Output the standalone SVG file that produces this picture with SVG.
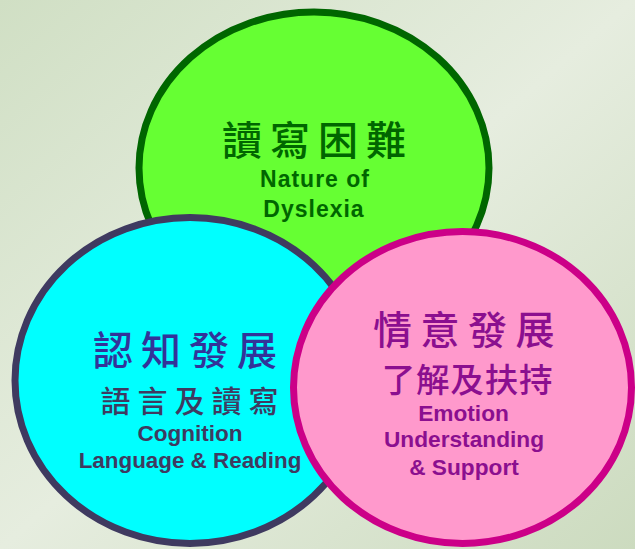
<svg xmlns="http://www.w3.org/2000/svg" width="635" height="549" viewBox="0 0 635 549">
  <defs>
    <linearGradient id="bg" x1="0" y1="0" x2="1" y2="1">
      <stop offset="0" stop-color="#d0dfc4"/>
      <stop offset="0.5" stop-color="#e6eddf"/>
      <stop offset="1" stop-color="#ccdbbf"/>
    </linearGradient>
  </defs>
  <style>
    .circ { stroke-width: 7; }
    .cjk { font-family: "Noto Sans CJK TC", "Noto Sans CJK SC", sans-serif; font-weight: 500; text-anchor: middle; }
    .en { font-family: "Liberation Sans", Arial, sans-serif; font-weight: bold; text-anchor: middle; }
  </style>
  <rect x="0" y="0" width="635" height="549" fill="url(#bg)"/>

  <g id="node-dyslexia">
    <ellipse class="circ" cx="314" cy="168" rx="175" ry="156" fill="#66ff33" stroke="#006600"/>
    <text class="cjk" x="318" y="155" font-size="40" letter-spacing="8" fill="#006600">讀寫困難</text>
    <text class="en" x="315" y="187" font-size="23" letter-spacing="1" fill="#006600">Nature of</text>
    <text class="en" x="314" y="217" font-size="23" letter-spacing="1" fill="#006600">Dyslexia</text>
  </g>

  <g id="node-cognition">
    <ellipse class="circ" cx="190" cy="380.5" rx="175" ry="163" fill="#00ffff" stroke="#3f3a60"/>
    <text class="cjk" x="189" y="365" font-size="40" letter-spacing="8" fill="#333399">認知發展</text>
    <text class="cjk" x="193" y="412" font-size="30" letter-spacing="7" fill="#3f3a60">語言及讀寫</text>
    <text class="en" x="190" y="441" font-size="22.5" fill="#3f3a60">Cognition</text>
    <text class="en" x="190" y="468" font-size="22.4" fill="#3f3a60">Language &amp; Reading</text>
  </g>

  <g id="node-emotion">
    <ellipse class="circ" cx="462.5" cy="387.5" rx="169" ry="156" fill="#ff99cc" stroke="#cc0088"/>
    <text class="cjk" x="468" y="344" font-size="39" letter-spacing="8.5" fill="#8b0f8f">情意發展</text>
    <text class="cjk" x="467.5" y="391.5" font-size="33.5" letter-spacing="0.8" fill="#8b0f8f">了解及扶持</text>
    <text class="en" x="463.5" y="421" font-size="22.7" fill="#8b0f8f">Emotion</text>
    <text class="en" x="464" y="447" font-size="22.7" fill="#8b0f8f">Understanding</text>
    <text class="en" x="464" y="475" font-size="22.7" fill="#8b0f8f">&amp; Support</text>
  </g>

  <g id="connectors"></g>
</svg>
